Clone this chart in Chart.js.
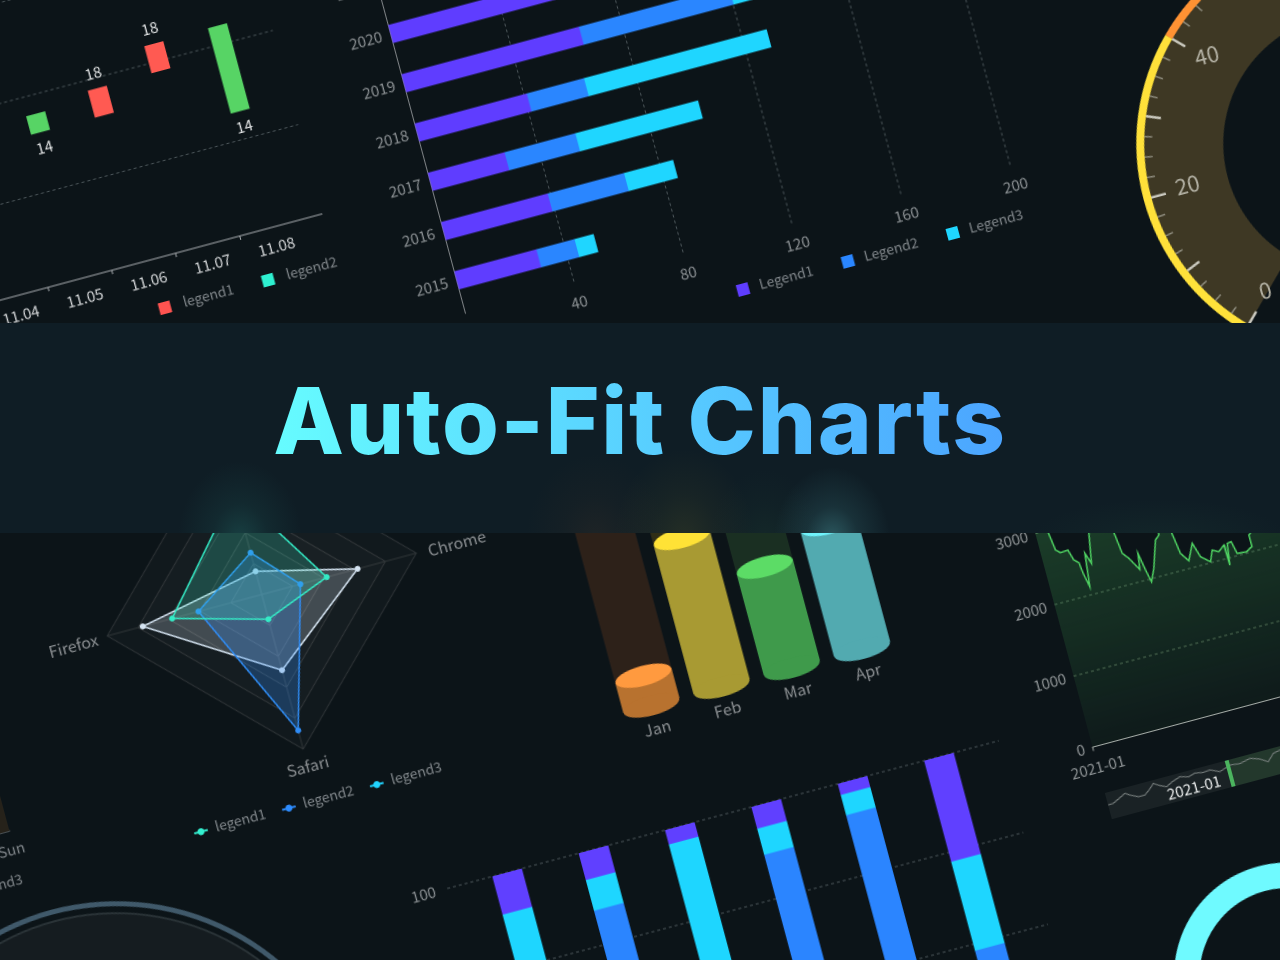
<!DOCTYPE html>
<html>
<head>
<meta charset="utf-8">
<title>Auto-Fit Charts</title>
<script src="https://cdn.jsdelivr.net/npm/chart.js@4"></script>
<style>
html, body { margin: 0; padding: 0; background: #0c1418; }
#page { position: relative; width: 1280px; height: 960px; overflow: hidden; background: #0c1418; }
#stage { position: absolute; left: 0; top: 0; width: 0; height: 0; transform-origin: 0 0; transform: rotate(-15deg); }
#stage canvas { position: absolute; }
#band {
    position: absolute; left: 0; top: 323px; width: 1280px; height: 210px;
    background:
        radial-gradient(ellipse 62px 78px at 240px 216px, rgba(40, 125, 118, 0.36), rgba(40, 125, 118, 0.13) 45%, transparent),
        radial-gradient(ellipse 58px 72px at 832px 216px, rgba(95, 195, 200, 0.36), rgba(95, 195, 200, 0.12) 45%, transparent),
        radial-gradient(ellipse 70px 90px at 684px 216px, rgba(135, 125, 40, 0.18), rgba(135, 125, 40, 0.07) 50%, transparent),
        radial-gradient(ellipse 70px 85px at 596px 216px, rgba(85, 60, 40, 0.22), rgba(85, 60, 40, 0.08) 50%, transparent),
        radial-gradient(ellipse 55px 70px at 765px 216px, rgba(45, 95, 60, 0.16), rgba(45, 95, 60, 0.06) 50%, transparent),
        radial-gradient(ellipse 130px 40px at 1160px 216px, rgba(45, 100, 70, 0.12), transparent),
        #0f1d25;
}
#band h1 { position: absolute; left: 0; width: 1280px; top: 42px; margin: 0; text-align: center; font: 800 92px Inter, sans-serif; letter-spacing: 1.7px; }
#band h1 span { background: linear-gradient(90deg, #66fcff, #4ba4ff); -webkit-background-clip: text; background-clip: text; color: transparent; }
</style>
</head>
<body>
<div id="page">
  <div id="stage">
    <canvas id="circleChart" width="540" height="540" style="left:-456.4px;top:873.5px"></canvas>
    <canvas id="weekChart" width="190" height="220" style="left:-360px;top:680px"></canvas>
    <canvas id="candleChart" width="400" height="490" style="left:-120px;top:-120px"></canvas>
    <canvas id="yearChart" width="680" height="480" style="left:300px;top:30px"></canvas>
    <canvas id="gaugeChart" width="440" height="440" style="left:1049.9px;top:236.6px"></canvas>
    <canvas id="radarChart" width="600" height="500" style="left:-200.6px;top:421.6px"></canvas>
    <canvas id="cylinderChart" width="360" height="420" style="left:380px;top:500px"></canvas>
    <canvas id="lineChart" width="380" height="360" style="left:801.5px;top:689.8px"></canvas>
    <canvas id="brushChart" width="290" height="50" style="left:852px;top:1040px"></canvas>
    <canvas id="stackChart" width="660" height="520" style="left:140px;top:950px"></canvas>
    <canvas id="ringChart" width="240" height="240" style="left:870.5px;top:1155.7px"></canvas>
  </div>
  <div id="band"><h1><span>Auto-Fit Charts</span></h1></div>
</div>

<script>
// candlestick, top left
const candleDays = ['11.04', '11.05', '11.06', '11.07', '11.08'];
const candleSlots = [0, 1, 2, 3, 4];
const candleRanges = [null, [16.1, 18], [16.1, 18.9], [19, 21.8], [12.9, 21.9]];
const candleLabels = ['', '14', '18', '18', '14'];
const candleColors = ['#57d465', '#57d465', '#ff5a52', '#ff5a52', '#57d465'];
const candleLegend = ['legend1', 'legend2'];

// horizontal stacks, top middle
const barYears = [2015, 2016, 2017, 2018, 2019, 2020, 2021];
const barLegend1 = [30, 39, 28, 41, 65, 62, 50];
const barLegend2 = [14, 28, 26, 21, 55, 40, 40];
const barLegend3 = [7, 18, 45, 67, 30, 40, 30];
const barTicks = [40, 80, 120, 160, 200];
const barLegend = ['Legend1', 'Legend2', 'Legend3'];

// gauge, top right
const gaugeStops = [40, 30, 50];
const gaugeTrack = [120];
const gaugeLabels = [0, 20, 40, 60, 80, 100, 120];

// radar
const radarAxes = ['IE', 'Chrome', 'Safari', 'Firefox'];
const radarLegend1 = [67, 42, 16, 58];
const radarLegend2 = [27, 25, 88, 41];
const radarLegend3 = [15, 62, 49, 77];
const radarLegend = ['legend1', 'legend2', 'legend3'];

// cylinders
const cylinderMonths = ['Jan', 'Feb', 'Mar', 'Apr'];
const cylinderValues = [20, 100, 68, 84];
const cylinderTrack = [200, 200, 200, 200];

// line with brush
const lineDays = [0, 6, 12.9, 15.2, 19.3, 27.1, 30.3, 34.5, 35.9, 38.8, 42.7, 46.5, 51.6, 58, 66, 76.3, 78.8, 83.9, 87.4, 91.6, 93.9, 97, 99.7, 105.4, 114.3, 118.9, 125, 132, 135, 141.2, 149, 153.5, 161.9, 166.5, 172.5, 179.1, 179.7, 182.8, 187, 189.8, 199.3, 205.4, 205.8, 212, 222, 240, 270];
const lineValues = [3400, 3300, 2950, 2717, 2664, 2673, 2521, 2468, 2313, 2115, 2570, 2415, 2810, 3300, 3500, 2719, 2438, 2350, 2265, 2165, 2384, 2138, 1962, 2130, 2496, 2550, 3100, 2517, 2233, 2107, 2324, 2119, 2018, 2165, 2120, 2190, 1905, 2200, 2208, 2033, 2022, 2070, 2233, 2300, 2700, 2900, 3000];
const lineTicks = [0, 1000, 2000, 3000, 4000];
const lineStart = '2021-01';
const brushDays = [0.2, 5.4, 12, 19.3, 23.7, 31.4, 38.2, 44, 49.2, 55, 61.3, 68, 76.7, 85, 92, 100, 107.5, 116.6, 122.4, 128.1, 138, 149.1, 158, 165.9, 173, 180.3, 200, 225, 250];
const brushValues = [14.6, 14.9, 18, 21.6, 18.6, 14.8, 14.7, 19, 23.8, 20, 17.2, 20.5, 23.4, 21, 23, 21.5, 22.1, 17.9, 19.8, 21.7, 20.5, 23, 20, 15, 21.8, 23.2, 20, 22, 19];
const brushFrom = 124;

// vertical stacks, bottom middle
const stackSlots = [0, 1, 2, 3, 4, 5];
const stackBlue = [61.6, 87.4, 56.8, 89.5, 93.1, 58.5];
const stackCyan = [30, 6.7, 40, 5.7, 4.4, 19.4];
const stackPurple = [8.4, 5.9, 3.2, 4.8, 2.5, 22.1];

// cut off charts at the edges
const weekDays = ['Sat', 'Sun'];
const weekValues = [60, 100];
const weekLegend = ['Legend3'];
const ringValues = [100];
const circleValues = [100];

Chart.defaults.font.family = '"Noto Sans CJK SC", "Noto Sans", sans-serif';
Chart.defaults.font.size = 15;
Chart.defaults.animation = false;
Chart.defaults.responsive = false;
Chart.defaults.devicePixelRatio = 2;
Chart.defaults.plugins.legend.display = false;
Chart.defaults.plugins.tooltip.enabled = false;

// axis boxes get a fixed size so the plot area lands where the padding says
const fixedSize = function (size) {
    return function (scale) {
        if (scale.isHorizontal()) scale.height = size; else scale.width = size;
    };
};

function drawKey(ctx, names, colors, x, y, gap, textGap, shape) {
    ctx.save();
    ctx.font = '14px ' + Chart.defaults.font.family;
    ctx.textBaseline = 'middle';
    ctx.textAlign = 'left';
    names.forEach(function (name, i) {
        const cx = x + i * gap;
        ctx.fillStyle = colors[i];
        ctx.strokeStyle = colors[i];
        if (shape === 'line') {
            ctx.lineWidth = 2;
            ctx.beginPath();
            ctx.moveTo(cx - 7, y);
            ctx.lineTo(cx + 7, y);
            ctx.stroke();
            ctx.beginPath();
            ctx.arc(cx, y, 3.5, 0, Math.PI * 2);
            ctx.fill();
        } else {
            ctx.fillRect(cx - 6, y - 6, 12, 12);
        }
        ctx.fillStyle = '#80868a';
        ctx.fillText(name, cx + textGap, y - 1);
    });
    ctx.restore();
}

new Chart(document.getElementById('circleChart'), {
    type: 'doughnut',
    data: {
        datasets: [
            { data: circleValues, backgroundColor: '#40596a', borderWidth: 0, weight: 5 },
            { data: circleValues, backgroundColor: 'transparent', borderWidth: 0, weight: 6 },
            { data: circleValues, backgroundColor: '#2a3337', borderWidth: 0, weight: 2 },
            { data: circleValues, backgroundColor: '#151c20', borderWidth: 0, weight: 239 }
        ]
    },
    options: { radius: 252, cutout: 0 }
});

new Chart(document.getElementById('weekChart'), {
    type: 'bar',
    data: {
        labels: weekDays,
        datasets: [{ data: weekValues, backgroundColor: '#26221a', categoryPercentage: 1, barPercentage: 1 }]
    },
    options: {
        layout: { padding: { left: 54, right: 36, top: 0, bottom: 65 } },
        scales: {
            x: {
                afterFit: fixedSize(30),
                grid: { display: false },
                border: { color: '#80868a' },
                ticks: { color: '#80868a', labelOffset: 22, padding: 2, maxRotation: 0, font: { size: 15 } }
            },
            y: { display: false, min: 0, max: 100 }
        }
    },
    plugins: [{
        id: 'weekKey',
        afterDraw: function (chart) {
            const ctx = chart.ctx;
            ctx.save();
            ctx.font = '14px ' + Chart.defaults.font.family;
            ctx.fillStyle = '#80868a';
            ctx.textAlign = 'right';
            ctx.textBaseline = 'middle';
            ctx.fillText(weekLegend[0], chart.chartArea.right, chart.chartArea.bottom + 49);
            ctx.restore();
        }
    }]
});

new Chart(document.getElementById('candleChart'), {
    type: 'bar',
    data: {
        labels: candleSlots,
        datasets: [{ data: candleRanges, backgroundColor: candleColors, barThickness: 19 }]
    },
    options: {
        layout: { padding: { left: 22.6, right: 24.4, top: 25, bottom: 40 } },
        scales: {
            x: {
                type: 'linear',
                offset: false,
                min: -0.5,
                max: 4.79,
                afterFit: fixedSize(40),
                afterBuildTicks: function (scale) {
                    scale.ticks = [-0.5, 0.5, 1.5, 2.5, 3.5, 4.5].map(function (value) { return { value: value }; });
                },
                grid: { offset: false, drawOnChartArea: false, tickColor: '#a9adb0', tickLength: 4 },
                border: { color: '#a9adb0' },
                ticks: {
                    color: '#d6d8da',
                    padding: 7,
                    labelOffset: 33,
                    maxRotation: 0,
                    autoSkip: false,
                    callback: function (value) { return candleDays[value + 0.5]; }
                }
            },
            y: {
                min: 0.5,
                max: 40,
                afterFit: fixedSize(0),
                afterBuildTicks: function (scale) {
                    scale.ticks = [10, 20, 30, 40].map(function (value) { return { value: value }; });
                },
                grid: { color: '#4b5559', drawTicks: false },
                border: { display: false, dash: [3, 3] },
                ticks: { display: false }
            }
        }
    },
    plugins: [{
        id: 'candleText',
        afterDraw: function (chart) {
            const ctx = chart.ctx;
            ctx.save();
            ctx.font = '15px ' + Chart.defaults.font.family;
            ctx.fillStyle = '#e4e6e7';
            ctx.textAlign = 'center';
            ctx.textBaseline = 'middle';
            chart.getDatasetMeta(0).data.forEach(function (bar, i) {
                if (!candleRanges[i]) return;
                const below = candleLabels[i] === '14';
                const y = chart.scales.y.getPixelForValue(candleRanges[i][below ? 0 : 1]);
                ctx.fillText(candleLabels[i], bar.x, y + (below ? 16 : -16));
            });
            ctx.restore();
            drawKey(ctx, candleLegend, ['#ff5350', '#2ef0d0'], 199.7, 460, 106.8, 19);
        }
    }]
});

new Chart(document.getElementById('yearChart'), {
    type: 'bar',
    data: {
        labels: barYears,
        datasets: [
            { label: barLegend[0], data: barLegend1, backgroundColor: '#5f3dff', barThickness: 18 },
            { label: barLegend[1], data: barLegend2, backgroundColor: '#2a86ff', barThickness: 18 },
            { label: barLegend[2], data: barLegend3, backgroundColor: '#1fd6ff', barThickness: 18 }
        ]
    },
    options: {
        indexAxis: 'y',
        layout: { padding: { left: 8.5, right: 47, top: 27.5, bottom: 47 } },
        scales: {
            x: {
                stacked: true,
                min: 0,
                max: 200,
                afterFit: fixedSize(40),
                afterBuildTicks: function (scale) {
                    scale.ticks = barTicks.map(function (value) { return { value: value }; });
                },
                grid: { color: '#4b5559', drawTicks: false },
                border: { display: false, dash: [3, 3] },
                ticks: { color: '#8d9295', padding: 10, maxRotation: 0 }
            },
            y: {
                type: 'linear',
                offset: false,
                stacked: true,
                min: 2014.333,
                max: 2021.5,
                afterFit: fixedSize(60),
                afterBuildTicks: function (scale) {
                    scale.ticks = barYears.map(function (value) { return { value: value }; });
                },
                grid: { offset: false, display: false, drawTicks: false },
                border: { color: '#7d8184' },
                ticks: {
                    color: '#8d9295',
                    padding: 9,
                    autoSkip: false,
                    callback: function (value) { return String(value); }
                }
            }
        }
    },
    plugins: [{
        id: 'yearKey',
        afterDraw: function (chart) {
            drawKey(chart.ctx, barLegend, ['#5f3dff', '#2a86ff', '#1fd6ff'], 342.8, 442, 108.6, 17);
        }
    }]
});

new Chart(document.getElementById('gaugeChart'), {
    type: 'doughnut',
    data: {
        datasets: [
            { data: gaugeStops, backgroundColor: ['#ffe13a', '#ff9233', '#ff5a52'], borderWidth: 0, weight: 8 },
            { data: gaugeTrack, backgroundColor: '#3e3824', borderWidth: 0, weight: 79 }
        ]
    },
    options: { radius: 217, cutout: '59.9%', rotation: 225, circumference: 270 },
    plugins: [{
        id: 'gaugeScale',
        afterDraw: function (chart) {
            const ctx = chart.ctx;
            const arc = chart.getDatasetMeta(0).data[0];
            const total = gaugeStops.reduce(function (a, b) { return a + b; }, 0);
            const edge = arc.innerRadius;
            ctx.save();
            ctx.font = '22px ' + Chart.defaults.font.family;
            ctx.textAlign = 'center';
            ctx.textBaseline = 'middle';
            for (let v = 0; v <= total; v += 2.5) {
                const a = (135 + v / total * 270) * Math.PI / 180;
                const major = v % 10 === 0;
                const r = edge - (major ? 15 : 8);
                ctx.strokeStyle = major ? '#c9c8be' : '#8e8c7e';
                ctx.lineWidth = major ? 2.5 : 1.5;
                ctx.beginPath();
                ctx.moveTo(arc.x + Math.cos(a) * edge, arc.y + Math.sin(a) * edge);
                ctx.lineTo(arc.x + Math.cos(a) * r, arc.y + Math.sin(a) * r);
                ctx.stroke();
                if (gaugeLabels.indexOf(v) >= 0) {
                    const la = a + 1 * Math.PI / 180;
                    ctx.fillStyle = '#b5b3a6';
                    ctx.fillText(String(v), arc.x + Math.cos(la) * 171, arc.y + Math.sin(la) * 171);
                }
            }
            ctx.restore();
        }
    }]
});

new Chart(document.getElementById('radarChart'), {
    type: 'radar',
    data: {
        labels: radarAxes,
        datasets: [
            { label: radarLegend[0], data: radarLegend1, borderColor: '#34ebc6', backgroundColor: 'rgba(52, 235, 198, 0.2)', pointBackgroundColor: '#34ebc6', pointBorderWidth: 0, pointRadius: 3, borderWidth: 1.5 },
            { label: radarLegend[1], data: radarLegend2, borderColor: '#2f8cf5', backgroundColor: 'rgba(47, 140, 245, 0.28)', pointBackgroundColor: '#2f8cf5', pointBorderWidth: 0, pointRadius: 3, borderWidth: 1.5 },
            { label: radarLegend[2], data: radarLegend3, borderColor: '#d5e4f2', backgroundColor: 'rgba(213, 228, 242, 0.22)', pointBackgroundColor: '#d5e4f2', pointBorderWidth: 0, pointRadius: 3, borderWidth: 1.5 }
        ]
    },
    options: {
        layout: { padding: { left: 140, right: 140, top: 60, bottom: 120 } },
        scales: {
            r: {
                min: 0,
                max: 100,
                ticks: { display: false, stepSize: 20 },
                pointLabels: { display: false },
                grid: { color: '#2c3235' },
                angleLines: { color: '#2c3235' }
            }
        }
    },
    plugins: [{
        id: 'radarDress',
        beforeDatasetsDraw: function (chart) {
            const ctx = chart.ctx;
            const r = chart.scales.r;
            ctx.save();
            ctx.fillStyle = 'rgba(255, 255, 255, 0.018)';
            [100, 80, 60, 40, 20].forEach(function (level) {
                ctx.beginPath();
                radarAxes.forEach(function (axis, i) {
                    const p = r.getPointPositionForValue(i, level);
                    if (i === 0) ctx.moveTo(p.x, p.y); else ctx.lineTo(p.x, p.y);
                });
                ctx.closePath();
                ctx.fill();
            });
            ctx.restore();
        },
        afterDraw: function (chart) {
            const ctx = chart.ctx;
            const r = chart.scales.r;
            ctx.save();
            ctx.font = '16px ' + Chart.defaults.font.family;
            ctx.fillStyle = '#8b8f92';
            ctx.textAlign = 'center';
            ctx.textBaseline = 'middle';
            radarAxes.forEach(function (axis, i) {
                const p = r.getPointPosition(i, r.drawingArea);
                const half = ctx.measureText(axis).width / 2;
                const dx = [0, 12 + half, 0, -10 - half][i];
                const dy = [-18, 1, 18, 1][i];
                ctx.fillText(axis, p.x + dx, p.y + dy);
            });
            ctx.restore();
            drawKey(ctx, radarLegend, ['#33f0d0', '#2d8cff', '#20d4ff'], 179.9, 433.4, 91, 15, 'line');
        }
    }]
});

const cylinderSides = ['#b8722f', '#a89a33', '#3f9a4b', '#52aab0'];
const cylinderCaps = ['#ff9a3f', '#ffe236', '#5cdc66', '#6ff3fb'];
const cylinderBacks = ['#2d2119', '#302e16', '#1a2f22', '#1f3f44'];

new Chart(document.getElementById('cylinderChart'), {
    type: 'bar',
    data: {
        labels: cylinderMonths,
        datasets: [
            { data: cylinderValues, backgroundColor: cylinderSides, barThickness: 57.5, grouped: false },
            { data: cylinderTrack, backgroundColor: cylinderBacks, barThickness: 57.5, grouped: false }
        ]
    },
    options: {
        layout: { padding: { left: 30.25, right: 38.95, top: 42, bottom: 30 } },
        scales: {
            x: {
                afterFit: fixedSize(40),
                grid: { display: false },
                border: { display: false },
                ticks: { color: '#8b8f92', padding: 6, maxRotation: 0, font: { size: 16 } }
            },
            y: { display: false, min: 0, max: 200 }
        }
    },
    plugins: [{
        id: 'cylinderCaps',
        afterDatasetsDraw: function (chart) {
            const ctx = chart.ctx;
            chart.getDatasetMeta(0).data.forEach(function (bar, i) {
                const rx = bar.width / 2;
                ctx.fillStyle = cylinderSides[i];
                ctx.beginPath();
                ctx.ellipse(bar.x, bar.base, rx, 10, 0, 0, Math.PI * 2);
                ctx.fill();
                ctx.fillStyle = cylinderCaps[i];
                ctx.beginPath();
                ctx.ellipse(bar.x, bar.y, rx, 10, 0, 0, Math.PI * 2);
                ctx.fill();
            });
        }
    }]
});

new Chart(document.getElementById('lineChart'), {
    type: 'line',
    data: {
        labels: lineDays,
        datasets: [{
            data: lineValues,
            borderColor: '#4fd462',
            borderWidth: 1.5,
            pointRadius: 0,
            fill: 'origin',
            backgroundColor: function (context) {
                const area = context.chart.chartArea;
                if (!area) return 'transparent';
                const g = context.chart.ctx.createLinearGradient(0, area.top, 0, area.bottom);
                g.addColorStop(0, 'rgba(72, 190, 92, 0.3)');
                g.addColorStop(1, 'rgba(72, 190, 92, 0.04)');
                return g;
            }
        }]
    },
    options: {
        layout: { padding: { left: 10, right: 20, top: 20, bottom: 5.6 } },
        scales: {
            x: {
                type: 'linear',
                min: 0,
                max: 300,
                afterFit: fixedSize(40),
                afterBuildTicks: function (scale) { scale.ticks = [{ value: 0 }]; },
                grid: { drawOnChartArea: false, tickColor: '#a4aaa6', tickLength: 4 },
                border: { color: '#a4aaa6' },
                ticks: { color: '#8f9496', padding: 8, maxRotation: 0, callback: function () { return lineStart; } }
            },
            y: {
                min: 0,
                max: 4000,
                afterFit: fixedSize(50),
                afterBuildTicks: function (scale) {
                    scale.ticks = lineTicks.map(function (value) { return { value: value }; });
                },
                grid: {
                    drawTicks: false,
                    color: function (context) { return context.tick.value === 0 ? 'transparent' : '#4f6353'; }
                },
                border: { display: false, dash: [3, 3] },
                ticks: { color: '#8f9496', padding: 8, callback: function (value) { return String(value); } }
            }
        }
    }
});

new Chart(document.getElementById('brushChart'), {
    type: 'line',
    data: {
        labels: brushDays,
        datasets: [{ data: brushValues, borderColor: '#7e8584', borderWidth: 1, pointRadius: 0 }]
    },
    options: {
        layout: { padding: { left: 10, right: 20, top: 12, bottom: 11 } },
        scales: {
            x: { type: 'linear', display: false, min: 0, max: 260 },
            y: { display: false, min: 0, max: 27 }
        }
    },
    plugins: [{
        id: 'brushDress',
        beforeDatasetsDraw: function (chart) {
            const ctx = chart.ctx;
            const a = chart.chartArea;
            const x = chart.scales.x.getPixelForValue(brushFrom);
            ctx.fillStyle = '#1a2225';
            ctx.fillRect(a.left, a.top, x - a.left, a.height);
            ctx.fillStyle = '#23382c';
            ctx.fillRect(x, a.top, a.right - x, a.height);
        },
        afterDraw: function (chart) {
            const ctx = chart.ctx;
            const a = chart.chartArea;
            const x = chart.scales.x.getPixelForValue(brushFrom);
            ctx.fillStyle = '#4bb45e';
            ctx.fillRect(x, a.top, 4, a.height);
            ctx.font = '15px ' + Chart.defaults.font.family;
            ctx.fillStyle = '#f2f4f4';
            ctx.textAlign = 'right';
            ctx.textBaseline = 'middle';
            ctx.fillText(lineStart, x - 9, a.top + 18);
        }
    }]
});

new Chart(document.getElementById('stackChart'), {
    type: 'bar',
    data: {
        labels: stackSlots,
        datasets: [
            { data: stackBlue, backgroundColor: '#2b85ff', barThickness: 30 },
            { data: stackCyan, backgroundColor: '#1ed6ff', barThickness: 30 },
            { data: stackPurple, backgroundColor: '#6040ff', barThickness: 30 }
        ]
    },
    options: {
        layout: { padding: { left: 12, right: 27, top: 24, bottom: 21 } },
        scales: {
            x: { type: 'linear', display: false, offset: false, stacked: true, min: -0.693, max: 5.693 },
            y: {
                stacked: true,
                min: 0,
                max: 100,
                afterFit: fixedSize(50),
                grid: { color: '#4b5559', drawTicks: false },
                border: { display: false, dash: [3, 3] },
                ticks: { color: '#8d9295', stepSize: 20, padding: 12 }
            }
        }
    }
});

new Chart(document.getElementById('ringChart'), {
    type: 'doughnut',
    data: {
        datasets: [{ data: ringValues, backgroundColor: '#6ffaff', borderWidth: 0 }]
    },
    options: { radius: 113.5, cutout: '77.5%' }
});
</script>
</body>
</html>
